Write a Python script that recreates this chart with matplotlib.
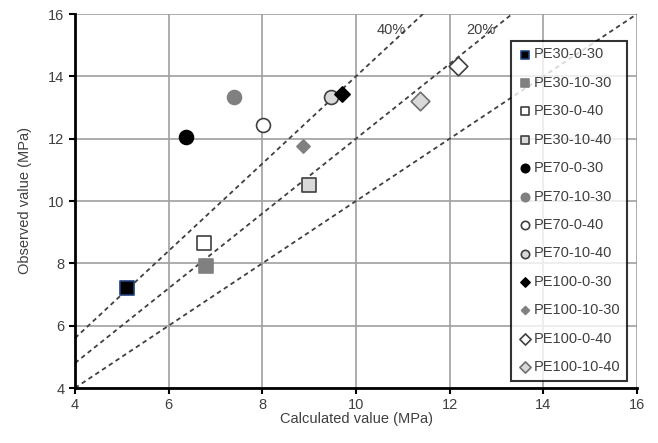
import numpy as np
import matplotlib
matplotlib.use("Agg")
import matplotlib.pyplot as plt

plt.rcParams['font.family'] = ['Liberation Sans', 'DejaVu Sans']

# series names and readings (calculated, observed) in MPa
names = ["PE30-0-30", "PE30-10-30", "PE30-0-40", "PE30-10-40",
         "PE70-0-30", "PE70-10-30", "PE70-0-40", "PE70-10-40",
         "PE100-0-30", "PE100-10-30", "PE100-0-40", "PE100-10-40"]
calc = [5.1, 6.8, 6.75, 9.0, 6.37, 7.4, 8.02, 9.47, 9.7, 8.87, 12.18, 11.37]
obs = [7.2, 7.9, 8.65, 10.5, 12.06, 13.34, 12.44, 13.34, 13.44, 11.77, 14.33, 13.21]

markers = ["s"] * 4 + ["o"] * 4 + ["D"] * 4
faces = ["black", "#808080", "white", "#d9d9d9"] * 3
edges = ["#1f3f7f", "#808080", "#404040", "#404040",
         "black", "#808080", "#404040", "#404040",
         "black", "#808080", "#404040", "#707070"]
sizes = [100, 100, 100, 100, 100, 100, 100, 100, 60, 45, 90, 90]

# reference lines: observed = factor * calculated
factors = [1.0, 1.2, 1.4]

fig = plt.figure(figsize=(6.58, 4.43), dpi=100)
ax = fig.add_axes([75 / 658, 55 / 443, 562 / 658, 374 / 443])

xs = np.array([4, 16])
for f in factors:
    ax.plot(xs, f * xs, color="#404040", ls=(0, (2.5, 2)), lw=1.3, zorder=2)
ax.text(10.45, 15.35, "40%", fontsize=10.5, color="#404040")
ax.text(12.35, 15.35, "20%", fontsize=10.5, color="#404040")

for i, n in enumerate(names):
    ax.scatter(calc[i], obs[i], marker=markers[i], s=sizes[i],
               facecolor=faces[i], edgecolor=edges[i], linewidths=1.2,
               label=n, zorder=3)

ax.set_xlim(4, 16)
ax.set_ylim(4, 16)
ax.set_xticks(range(4, 17, 2))
ax.set_yticks(range(4, 17, 2))
ax.grid(True, color="#a0a0a0", lw=1.2, zorder=0)
ax.set_axisbelow(True)
for s in ["top", "right"]:
    ax.spines[s].set_visible(False)
for s in ["left", "bottom"]:
    ax.spines[s].set_linewidth(2)
ax.tick_params(direction="out", length=4, width=1.5, labelsize=10.5,
               labelcolor="#404040")
ax.set_xlabel("Calculated value (MPa)", fontsize=10.5, color="#404040", labelpad=0)
ax.set_ylabel("Observed value (MPa)", fontsize=10.5, color="#404040", labelpad=12)

leg = ax.legend(loc="upper right", bbox_to_anchor=(0.99, 0.94), fontsize=10.5,
                frameon=True, fancybox=False, edgecolor="black",
                handletextpad=0.1, handlelength=1.0, labelspacing=0.99,
                borderpad=0.45, borderaxespad=0.3, markerscale=0.6)
leg.get_frame().set_linewidth(1.5)
for t in leg.get_texts():
    t.set_color("#404040")

fig.savefig("out.png", dpi=100)
